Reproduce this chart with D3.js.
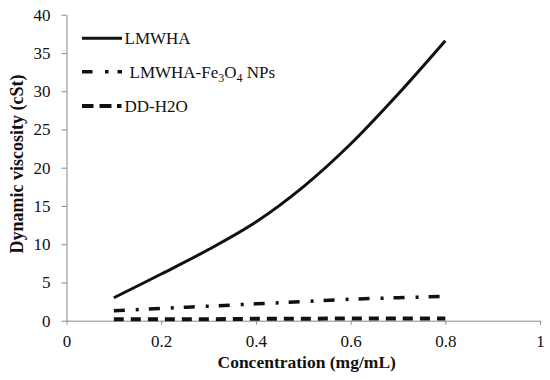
<!DOCTYPE html>
<html><head><meta charset="utf-8">
<script src="https://cdn.jsdelivr.net/npm/d3@7"></script>
<style>body{margin:0;background:#fff}svg{display:block}text{font-family:"Liberation Serif","Times New Roman",serif;fill:#111}</style>
</head><body><svg id="c" width="550" height="380"></svg>
<script>
const conc = [0.1, 0.2, 0.3, 0.4, 0.5, 0.6, 0.7, 0.8];
const lmwha = [3.0, 6.1, 9.3, 12.9, 17.5, 23.1, 29.6, 36.6];
const lmwhaFe = [1.3, 1.6, 1.9, 2.2, 2.5, 2.8, 3.0, 3.2];
const ddh2o = [0.2, 0.2, 0.2, 0.25, 0.25, 0.3, 0.3, 0.3];
const xTicks = [0, 0.2, 0.4, 0.6, 0.8, 1];
const yTicks = [0, 5, 10, 15, 20, 25, 30, 35, 40];

const svg = d3.select("#c");
const x = d3.scaleLinear().domain([0, 1]).range([66.5, 540]);
const y = d3.scaleLinear().domain([0, 40]).range([320.7, 14.7]);

const xAxis = svg.append("g").attr("transform", "translate(0,320.7)")
  .call(d3.axisBottom(x).tickValues(xTicks).tickSize(4).tickSizeOuter(0).tickPadding(10.5).tickFormat(d => d === 0 || d === 1 ? d3.format("d")(d) : d3.format(".1f")(d)));
const yAxis = svg.append("g").attr("transform", "translate(66.5,0)")
  .call(d3.axisLeft(y).tickValues(yTicks).tickSize(5).tickSizeOuter(0).tickPadding(11));
[xAxis, yAxis].forEach(a => {
  a.attr("font-family", '"Liberation Serif",serif');
  a.selectAll("path,line").attr("stroke", "#888").attr("stroke-width", 1);
  a.selectAll("text").attr("font-size", 17).attr("fill", "#111");
});

const series = [
  {name: "LMWHA", vals: lmwha, dash: null, w: 3, leg: null},
  {name: "LMWHA-Fe3O4 NPs", vals: lmwhaFe, dash: "11,11,3,10", w: 3.5, leg: "10.5,12.5,3.5,9,4.5"},
  {name: "DD-H2O", vals: ddh2o, dash: "10,7", w: 4, leg: "11.5,6,12,5.5,4.5"}
];
const line = d3.line().x((d, i) => x(conc[i])).y(d => y(d)).curve(d3.curveCatmullRom);
series.forEach(s => {
  svg.append("path").datum(s.vals).attr("d", line).attr("fill", "none")
    .attr("stroke", "#111").attr("stroke-width", s.w)
    .attr("stroke-dasharray", s.dash);
});

// legend
const legY = [38.3, 71.7, 106];
series.forEach((s, i) => {
  svg.append("line").attr("x1", 82).attr("x2", 122).attr("y1", legY[i]).attr("y2", legY[i])
    .attr("stroke", "#111").attr("stroke-width", s.w).attr("stroke-dasharray", s.leg);
});
svg.append("text").attr("x", 124.5).attr("y", legY[0] + 6).attr("font-size", 17).text("LMWHA");
const t2 = svg.append("text").attr("x", 129.5).attr("y", legY[1] + 6).attr("font-size", 17);
t2.append("tspan").text("LMWHA-Fe");
t2.append("tspan").attr("font-size", 12).attr("dy", 4).text("3");
t2.append("tspan").attr("dy", -4).text("O");
t2.append("tspan").attr("font-size", 12).attr("dy", 4).text("4");
t2.append("tspan").attr("dy", -4).text(" NPs");
svg.append("text").attr("x", 124.5).attr("y", legY[2] + 6).attr("font-size", 17).text("DD-H2O");

// axis titles
svg.append("text").attr("x", 306.7).attr("y", 367.5).attr("text-anchor", "middle")
  .attr("font-size", 17.5).attr("font-weight", "bold").text("Concentration (mg/mL)");
svg.append("text").attr("transform", "translate(23,164) rotate(-90)").attr("text-anchor", "middle")
  .attr("font-size", 18).attr("font-weight", "bold").text("Dynamic viscosity (cSt)");
</script></body></html>
